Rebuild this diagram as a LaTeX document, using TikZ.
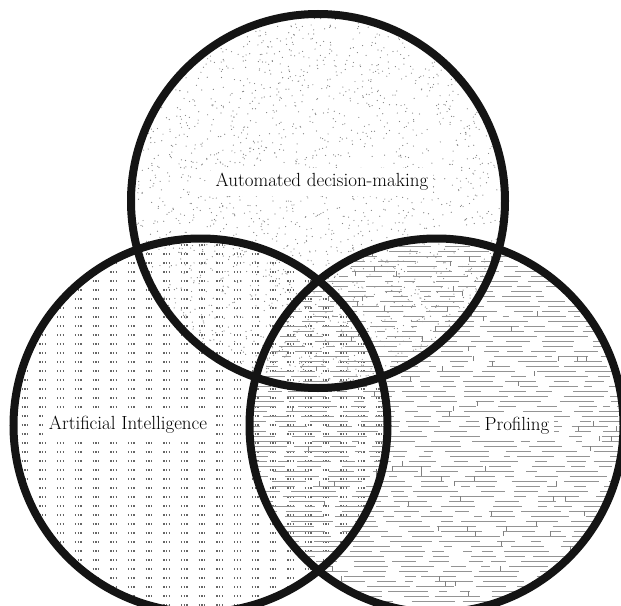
\documentclass[tikz,border=0pt]{standalone}
\usepackage{fontspec}
\usetikzlibrary{calc}
\begin{document}
\begin{tikzpicture}[x=1pt,y=-1pt,
  ring/.style={draw=black!92,line width=8pt},
  lbl/.style={fill=white,inner sep=5pt,font=\fontsize{19}{22}\selectfont,text=black}]
\useasboundingbox (0,0) rectangle (621,605);
\fill[white] (0,0) rectangle (621,605);
\coordinate (ct) at (318,201);
\coordinate (cl) at (200.5,425.5);
\coordinate (cr) at (436.5,425.5);
% top circle: stipple
\begin{scope}
\clip (ct) circle[radius=187pt];
\pgfmathsetseed{7}
\foreach \i in {1,...,2600}{
  \pgfmathsetmacro\xx{128+382*rnd}
  \pgfmathsetmacro\yy{12+382*rnd}
  \fill[black!50] (\xx,\yy) circle[radius=0.6pt];
}
\end{scope}
% left circle: dot triplets
\begin{scope}
\clip (cl) circle[radius=187pt];
\foreach \r in {0,...,42}{
  \pgfmathsetmacro\yy{236+9*\r}
  \draw[black!60,line width=1.4pt,dash pattern=on 1.3pt off 1.4pt on 1.3pt off 1.4pt on 1.3pt off 11pt]
    (4,\yy) -- (400,\yy);
}
\end{scope}
% right circle: broken horizontal lines
\begin{scope}
\clip (cr) circle[radius=187pt];
\pgfmathsetseed{11}
\foreach \r in {0,...,76}{
  \pgfmathsetmacro\yy{236+5*\r}
  \pgfmathsetmacro\st{230+20*rnd}
  \xdef\cx{\st}
  \foreach \s in {1,...,14}{
    \pgfmathsetmacro\len{6+40*rnd}
    \pgfmathsetmacro\gp{5+18*rnd}
    \pgfmathsetmacro\xe{\cx+\len}
    \draw[black!42,line width=1pt] (\cx,\yy) -- (\xe,\yy);
    \pgfmathsetmacro\nx{\xe+\gp}
    \xdef\cx{\nx}
  }
}
\foreach \i in {1,...,100}{
  \pgfmathsetmacro\xx{245+380*rnd}
  \pgfmathsetmacro\yy{236+5*round(74*rnd)}
  \draw[black!50,line width=0.9pt] (\xx,\yy) -- ++(0,-5);
}
\end{scope}
% labels
\node[lbl] (adm) at (322,182) {Automated decision-making};
\node[lbl] (ai) at (128,425) {Artificial Intelligence};
\node[lbl] (prof) at (517,426) {Profiling};
% outlines
\draw[ring] (ct) circle[radius=187pt];
\draw[ring] (cl) circle[radius=187pt];
\draw[ring] (cr) circle[radius=187pt];
\end{tikzpicture}
\end{document}
